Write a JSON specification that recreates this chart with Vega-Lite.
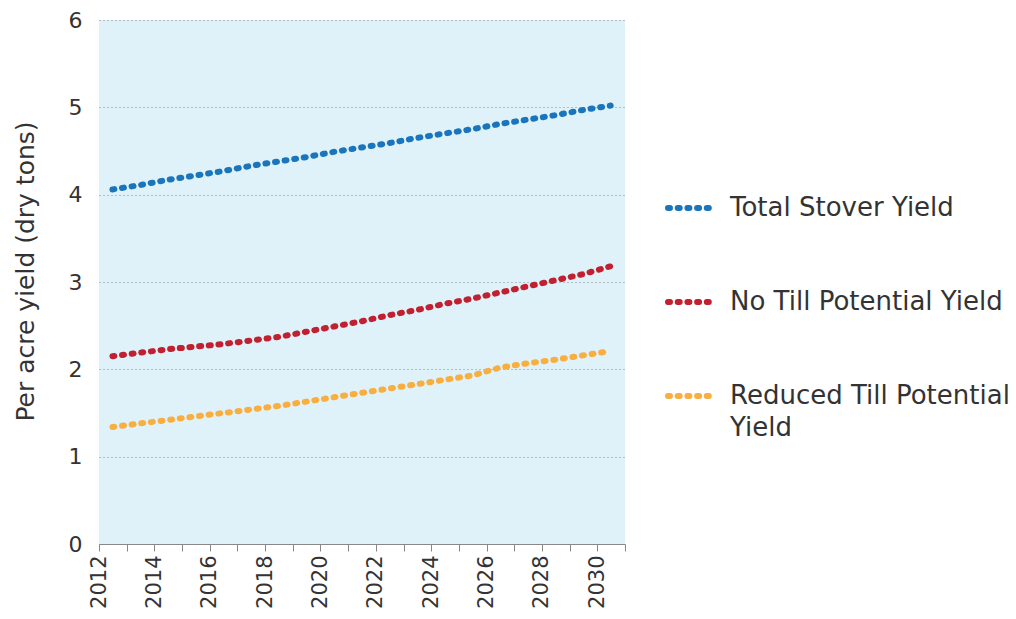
{
  "$schema": "https://vega.github.io/schema/vega-lite/v6.json",
  "width": 526,
  "height": 524,
  "autosize": {"type": "none"},
  "padding": {"left": 99, "top": 20, "right": 391, "bottom": 75},
  "background": "white",
  "config": {"view": {"fill": "#dff2fa", "stroke": null}, "font": "DejaVu Sans"},
  "data": {"values": [
    {"year": 2012, "series": "Total Stover Yield", "value": 4.06},
    {"year": 2013, "series": "Total Stover Yield", "value": 4.11},
    {"year": 2014, "series": "Total Stover Yield", "value": 4.17},
    {"year": 2015, "series": "Total Stover Yield", "value": 4.22},
    {"year": 2016, "series": "Total Stover Yield", "value": 4.27},
    {"year": 2017, "series": "Total Stover Yield", "value": 4.33},
    {"year": 2018, "series": "Total Stover Yield", "value": 4.38},
    {"year": 2019, "series": "Total Stover Yield", "value": 4.43},
    {"year": 2020, "series": "Total Stover Yield", "value": 4.49},
    {"year": 2021, "series": "Total Stover Yield", "value": 4.54},
    {"year": 2022, "series": "Total Stover Yield", "value": 4.59},
    {"year": 2023, "series": "Total Stover Yield", "value": 4.65},
    {"year": 2024, "series": "Total Stover Yield", "value": 4.70},
    {"year": 2025, "series": "Total Stover Yield", "value": 4.75},
    {"year": 2026, "series": "Total Stover Yield", "value": 4.81},
    {"year": 2027, "series": "Total Stover Yield", "value": 4.86},
    {"year": 2028, "series": "Total Stover Yield", "value": 4.91},
    {"year": 2029, "series": "Total Stover Yield", "value": 4.97},
    {"year": 2030, "series": "Total Stover Yield", "value": 5.02},
    {"year": 2012, "series": "No Till Potential Yield", "value": 2.15},
    {"year": 2013, "series": "No Till Potential Yield", "value": 2.19},
    {"year": 2014, "series": "No Till Potential Yield", "value": 2.23},
    {"year": 2015, "series": "No Till Potential Yield", "value": 2.26},
    {"year": 2016, "series": "No Till Potential Yield", "value": 2.29},
    {"year": 2017, "series": "No Till Potential Yield", "value": 2.33},
    {"year": 2018, "series": "No Till Potential Yield", "value": 2.37},
    {"year": 2019, "series": "No Till Potential Yield", "value": 2.43},
    {"year": 2020, "series": "No Till Potential Yield", "value": 2.49},
    {"year": 2021, "series": "No Till Potential Yield", "value": 2.55},
    {"year": 2022, "series": "No Till Potential Yield", "value": 2.62},
    {"year": 2023, "series": "No Till Potential Yield", "value": 2.68},
    {"year": 2024, "series": "No Till Potential Yield", "value": 2.75},
    {"year": 2025, "series": "No Till Potential Yield", "value": 2.81},
    {"year": 2026, "series": "No Till Potential Yield", "value": 2.88},
    {"year": 2027, "series": "No Till Potential Yield", "value": 2.95},
    {"year": 2028, "series": "No Till Potential Yield", "value": 3.02},
    {"year": 2029, "series": "No Till Potential Yield", "value": 3.09},
    {"year": 2030, "series": "No Till Potential Yield", "value": 3.18},
    {"year": 2012, "series": "Reduced Till Potential Yield", "value": 1.34},
    {"year": 2013, "series": "Reduced Till Potential Yield", "value": 1.38},
    {"year": 2014, "series": "Reduced Till Potential Yield", "value": 1.42},
    {"year": 2015, "series": "Reduced Till Potential Yield", "value": 1.46},
    {"year": 2016, "series": "Reduced Till Potential Yield", "value": 1.50},
    {"year": 2017, "series": "Reduced Till Potential Yield", "value": 1.54},
    {"year": 2018, "series": "Reduced Till Potential Yield", "value": 1.58},
    {"year": 2019, "series": "Reduced Till Potential Yield", "value": 1.63},
    {"year": 2020, "series": "Reduced Till Potential Yield", "value": 1.68},
    {"year": 2021, "series": "Reduced Till Potential Yield", "value": 1.73},
    {"year": 2022, "series": "Reduced Till Potential Yield", "value": 1.78},
    {"year": 2023, "series": "Reduced Till Potential Yield", "value": 1.83},
    {"year": 2024, "series": "Reduced Till Potential Yield", "value": 1.88},
    {"year": 2025, "series": "Reduced Till Potential Yield", "value": 1.93},
    {"year": 2026, "series": "Reduced Till Potential Yield", "value": 2.02},
    {"year": 2027, "series": "Reduced Till Potential Yield", "value": 2.07},
    {"year": 2028, "series": "Reduced Till Potential Yield", "value": 2.11},
    {"year": 2029, "series": "Reduced Till Potential Yield", "value": 2.16},
    {"year": 2030, "series": "Reduced Till Potential Yield", "value": 2.21}
  ]},
  "mark": {"type": "line", "strokeDash": [2, 7.7], "strokeCap": "round", "strokeWidth": 6, "xOffset": 13.4},
  "encoding": {
    "x": {
      "field": "year", "type": "quantitative",
      "scale": {"domain": [2012, 2031], "nice": false, "zero": false},
      "axis": {
        "values": [2012,2013,2014,2015,2016,2017,2018,2019,2020,2021,2022,2023,2024,2025,2026,2027,2028,2029,2030,2031],
        "labelExpr": "(datum.value % 2 == 0 && datum.value < 2031) ? datum.label : ''",
        "format": "d", "labelAngle": -90, "grid": false, "tickSize": 7,
        "domainColor": "#888888", "tickColor": "#888888", "labelFontSize": 21,
        "labelColor": "#333333", "labelPadding": 4, "title": null
      }
    },
    "y": {
      "field": "value", "type": "quantitative",
      "scale": {"domain": [0, 6], "nice": false},
      "axis": {
        "values": [0, 1, 2, 3, 4, 5, 6], "domain": false, "ticks": false,
        "gridDash": [1, 3], "gridColor": "#888888", "labelFontSize": 22,
        "labelColor": "#333333", "labelPadding": 17,
        "title": "Per acre yield (dry tons)", "titleFontSize": 25, "titleFontWeight": "normal",
        "titleColor": "#333333", "titleX": -61, "titleY": 251
      }
    },
    "color": {
      "field": "series", "type": "nominal",
      "scale": {
        "domain": ["Total Stover Yield", "No Till Potential Yield", "Reduced Till Potential Yield"],
        "range": ["#1a75bc", "#c0202f", "#f9ae40"]
      },
      "legend": {
        "orient": "none", "legendX": 566, "legendY": 162, "title": null,
        "symbolType": "stroke", "symbolSize": 2116, "symbolStrokeWidth": 6,
        "symbolDash": [2, 7.7], "labelFontSize": 26, "labelColor": "#333333",
        "rowPadding": 55, "labelOffset": 13, "labelLimit": 400,
        "labelExpr": "datum.label == 'Reduced Till Potential Yield' ? ['Reduced Till Potential', 'Yield'] : datum.label",
        "encode": {
          "symbols": {"update": {"strokeCap": {"value": "round"}}},
          "labels": {"update": {"lineHeight": {"value": 32}}}
        }
      }
    }
  }
}
